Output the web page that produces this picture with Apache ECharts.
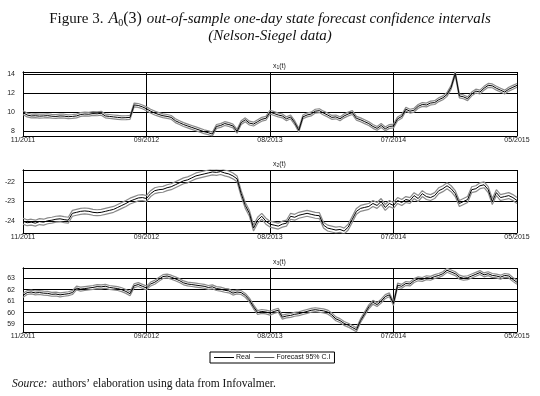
<!DOCTYPE html>
<html>
<head>
<meta charset="utf-8">
<script src="https://cdn.jsdelivr.net/npm/echarts@6/dist/echarts.min.js"></script>
<style>
  html, body { margin: 0; padding: 0; background: #fff; }
  #chart { width: 540px; height: 396px; }
</style>
</head>
<body>
<div id="chart"></div>
<script>
// x axis: observation index, labelled every 30 observations
var xTickLabels = ['11/2011', '09/2012', '08/2013', '07/2014', '05/2015'];

// x1(t)
var x1Real = [9.95, 9.7, 9.6, 9.62, 9.58, 9.6, 9.63, 9.57, 9.55, 9.6,
    9.58, 9.52, 9.55, 9.6, 9.75, 9.8, 9.78, 9.85, 9.82, 9.88,
    9.6, 9.55, 9.5, 9.45, 9.4, 9.42, 9.45, 10.75, 10.7, 10.55,
    10.35, 10.1, 9.9, 9.75, 9.62, 9.55, 9.45, 9.1, 8.9, 8.7,
    8.55, 8.4, 8.25, 8.1, 7.95, 7.85, 7.7, 8.5, 8.6, 8.8,
    8.7, 8.55, 8.0, 8.9, 9.2, 8.85, 8.75, 9.0, 9.25, 9.35,
    10.0, 9.85, 9.7, 9.6, 9.3, 9.5, 8.9, 8.1, 9.5, 9.7,
    9.8, 10.1, 10.15, 9.9, 9.7, 9.45, 9.5, 9.3, 9.6, 9.8,
    9.95, 9.35, 9.2, 9.0, 8.8, 8.5, 8.3, 8.6, 8.25, 8.5,
    8.55, 9.3, 9.55, 10.3, 10.1, 10.2, 10.6, 10.8, 10.75, 10.95,
    11.0, 11.3, 11.5, 11.85, 12.6, 14.05, 11.7, 11.6, 11.4, 11.9,
    12.2, 12.1, 12.5, 12.8, 12.75, 12.5, 12.3, 12.1, 12.4, 12.6,
    12.8];
var x1Band = 0.2;
var x1Ticks = [8, 10, 12, 14];

// x2(t)
var x2Real = [-24.0, -24.08, -24.05, -24.1, -24.02, -24.05, -23.98, -23.95, -23.9, -23.88,
    -23.92, -23.95, -23.6, -23.55, -23.5, -23.48, -23.5, -23.55, -23.57, -23.55,
    -23.5, -23.45, -23.4, -23.3, -23.2, -23.1, -22.98, -22.9, -22.82, -22.8,
    -22.85, -22.6, -22.45, -22.4, -22.38, -22.3, -22.25, -22.15, -22.05, -21.95,
    -21.9, -21.8, -21.7, -21.65, -21.6, -21.55, -21.5, -21.52, -21.48, -21.55,
    -21.6, -21.7, -21.85, -22.6, -23.2, -23.6, -24.35, -23.95, -23.75, -24.0,
    -24.15, -24.2, -24.25, -24.15, -24.1, -23.75, -23.8, -23.7, -23.65, -23.6,
    -23.65, -23.7, -23.72, -24.2, -24.35, -24.4, -24.45, -24.42, -24.5, -24.3,
    -23.9, -23.5, -23.35, -23.3, -23.25, -23.1, -23.2, -23.0, -23.3, -23.1,
    -23.2, -22.95, -23.05, -22.9, -22.95, -22.7, -22.85, -22.6, -22.75, -22.8,
    -22.7, -22.45, -22.35, -22.2, -22.35, -22.6, -23.1, -23.0, -22.9, -22.4,
    -22.35, -22.2, -22.15, -22.4, -23.0, -22.55, -22.8, -22.75, -22.7, -22.8,
    -22.95];
var x2Band = 0.15;
var x2Ticks = [-24, -23, -22];

// x3(t)
var x3Real = [61.5, 61.75, 61.8, 61.72, 61.75, 61.7, 61.68, 61.6, 61.62, 61.55,
    61.6, 61.65, 61.75, 62.15, 62.05, 62.1, 62.15, 62.2, 62.27, 62.25,
    62.3, 62.2, 62.15, 62.1, 62.0, 61.85, 61.65, 62.35, 62.45, 62.3,
    62.15, 62.5, 62.65, 62.9, 63.15, 63.2, 63.1, 62.95, 62.8, 62.6,
    62.5, 62.45, 62.4, 62.35, 62.3, 62.2, 62.25, 62.1, 62.05, 61.95,
    61.9, 61.7, 61.8, 61.75, 61.5, 61.1, 60.5, 60.0, 60.1, 60.05,
    59.95, 60.1, 60.2, 59.6, 59.7, 59.75, 59.85, 59.9, 60.0, 60.1,
    60.2, 60.25, 60.2, 60.15, 60.05, 59.8, 59.45, 59.3, 59.05, 58.9,
    58.7, 58.5, 59.3, 59.9, 60.5, 60.9, 60.7, 61.0, 61.4, 61.55,
    60.8, 62.4, 62.3, 62.55, 62.5, 62.8, 62.95, 62.9, 63.05, 63.0,
    63.15, 63.25, 63.4, 63.7, 63.55, 63.4, 63.1, 63.0, 63.05, 63.2,
    63.35, 63.5, 63.3, 63.4, 63.25, 63.2, 63.1, 63.25, 63.2, 62.9,
    62.65];
var x3Band = 0.17;
var x3Ticks = [59, 60, 61, 62, 63];

var sansFont = 'Liberation Sans';
var serifFont = 'Liberation Serif';

var panels = [
    { sub: '1', real: x1Real, band: x1Band, ticks: x1Ticks, min: 7.5, max: 14.2, top: 72, height: 64 },
    { sub: '2', real: x2Real, band: x2Band, ticks: x2Ticks, min: -24.6, max: -21.4, top: 170, height: 63 },
    { sub: '3', real: x3Real, band: x3Band, ticks: x3Ticks, min: 58.3, max: 63.9, top: 268, height: 64 }
];

var grids = [], xAxes = [], yAxes = [], series = [];
var titles = [{
    left: 'center',
    top: 5,
    text: '{n|Figure 3.} {m|A}{s|0}{u|(3)} {i|out-of-sample one-day state forecast confidence intervals}',
    textStyle: {
        fontWeight: 'normal',
        rich: {
            n: { fontFamily: serifFont, fontSize: 15, color: '#111', fontWeight: 'normal' },
            m: { fontFamily: serifFont, fontSize: 16, color: '#111', fontStyle: 'italic', fontWeight: 'normal' },
            s: { fontFamily: serifFont, fontSize: 10, color: '#111', verticalAlign: 'bottom', fontWeight: 'normal' },
            u: { fontFamily: serifFont, fontSize: 16, color: '#111', fontWeight: 'normal' },
            i: { fontFamily: serifFont, fontSize: 15, color: '#111', fontStyle: 'italic', fontWeight: 'normal' }
        }
    }
}, {
    left: 'center',
    top: 24,
    text: '(Nelson-Siegel data)',
    textStyle: { fontFamily: serifFont, fontSize: 15, color: '#111', fontStyle: 'italic', fontWeight: 'normal' }
}];

for (var p = 0; p < panels.length; p++) {
    var pn = panels[p];
    grids.push({ left: 23, right: 23, top: pn.top, height: pn.height, show: false });
    xAxes.push({
        type: 'value',
        gridIndex: p,
        min: 0,
        max: 120,
        interval: 30,
        axisLine: { show: true, onZero: false, lineStyle: { color: '#000', width: 1 } },
        axisTick: { show: false },
        splitLine: { show: true, lineStyle: { color: '#000', width: 1 } },
        axisLabel: {
            margin: 1,
            fontFamily: sansFont,
            fontSize: 7,
            color: '#222',
            formatter: function (v) { return xTickLabels[Math.round(v / 30)]; }
        }
    });
    yAxes.push({
        type: 'value',
        gridIndex: p,
        min: pn.min,
        max: pn.max,
        axisLine: { show: true, lineStyle: { color: '#000', width: 1 } },
        axisTick: { show: false, customValues: pn.ticks },
        splitLine: { show: true, lineStyle: { color: '#000', width: 1 } },
        axisLabel: {
            customValues: pn.ticks,
            margin: 8,
            fontFamily: sansFont,
            fontSize: 7,
            color: '#222'
        }
    });
    // right + top border of the box
    xAxes.push({
        type: 'value', gridIndex: p, position: 'top', min: 0, max: 120,
        axisLine: { show: true, onZero: false, lineStyle: { color: '#000', width: 1 } },
        axisTick: { show: false }, axisLabel: { show: false }, splitLine: { show: false }
    });
    yAxes.push({
        type: 'value', gridIndex: p, position: 'right', min: pn.min, max: pn.max,
        axisLine: { show: true, lineStyle: { color: '#000', width: 1 } },
        axisTick: { show: false }, axisLabel: { show: false }, splitLine: { show: false }
    });
    titles.push({
        left: 268,
        top: pn.top - 15,
        text: '{a|x}{b|' + pn.sub + '}{a|(t)}',
        textStyle: {
            rich: {
                a: { fontFamily: sansFont, fontSize: 7, color: '#222', fontWeight: 'normal' },
                b: { fontFamily: sansFont, fontSize: 5, color: '#222', fontWeight: 'normal', verticalAlign: 'bottom', padding: [3, 0, 0, 0] }
            }
        }
    });

    var realData = [], upData = [], lowData = [];
    for (var i = 0; i < pn.real.length; i++) {
        realData.push([i, pn.real[i]]);
        upData.push([i, pn.real[i] + pn.band]);
        lowData.push([i, pn.real[i] - pn.band]);
    }
    var ax = p * 2;
    series.push({
        name: 'Forecast 95% C.I', type: 'line', xAxisIndex: ax, yAxisIndex: ax,
        symbol: 'none', data: upData, lineStyle: { color: '#8a8a8a', width: 1.2 }, itemStyle: { color: '#8a8a8a' }
    });
    series.push({
        name: 'Forecast 95% C.I', type: 'line', xAxisIndex: ax, yAxisIndex: ax,
        symbol: 'none', data: lowData, lineStyle: { color: '#8a8a8a', width: 1.2 }, itemStyle: { color: '#8a8a8a' }
    });
    series.push({
        name: 'Real', type: 'line', xAxisIndex: ax, yAxisIndex: ax,
        symbol: 'none', data: realData, lineStyle: { color: '#000', width: 1 }, itemStyle: { color: '#000' }
    });
}

titles.push({
    left: 7,
    top: 370,
    text: '{i|Source:} {n|authors\u2019 elaboration using data from Infovalmer.}',
    textStyle: {
        fontWeight: 'normal',
        rich: {
            i: { fontFamily: serifFont, fontSize: 11.5, color: '#111', fontStyle: 'italic', fontWeight: 'normal' },
            n: { fontFamily: serifFont, fontSize: 11.5, color: '#111', fontWeight: 'normal' }
        }
    }
});

var chart = echarts.init(document.getElementById('chart'), null, { renderer: 'canvas' });
chart.setOption({
    animation: false,
    backgroundColor: '#fff',
    title: titles,
    legend: {
        data: [
            { name: 'Real', icon: 'rect', itemStyle: { color: '#000' } },
            { name: 'Forecast 95% C.I', icon: 'rect', itemStyle: { color: '#555' } }
        ],
        left: 210,
        top: 352,
        padding: [2, 4, 2, 4],
        itemGap: 4,
        itemWidth: 20,
        itemHeight: 1,
        borderColor: '#000',
        borderWidth: 1,
        borderRadius: 0,
        textStyle: { fontFamily: sansFont, fontSize: 7, color: '#111', padding: [0, 0, 0, -3] }
    },
    grid: grids,
    xAxis: xAxes,
    yAxis: yAxes,
    series: series
});
</script>
</body>
</html>
